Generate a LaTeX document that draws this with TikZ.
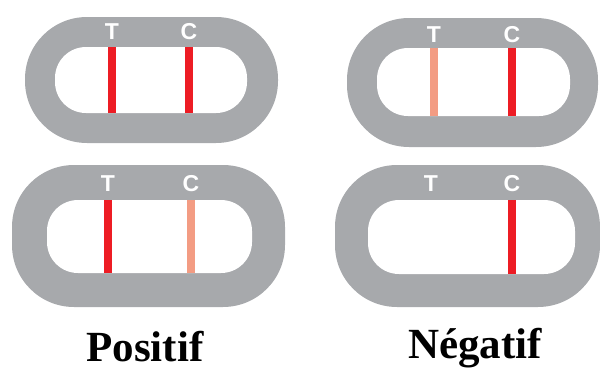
\documentclass[tikz,border=0pt]{standalone}
\usepackage{fontspec}
\setmainfont{Liberation Serif}
\setsansfont{Liberation Sans}
\definecolor{cassette}{HTML}{A7A9AC}
\definecolor{strong}{HTML}{ED1C24}
\definecolor{faint}{HTML}{F39C83}
\begin{document}
\begin{tikzpicture}[x=1pt,y=-1pt,
        case/.style={fill=cassette,rounded corners=62pt},
        window/.style={fill=white,rounded corners=31pt},
        band/.style={line width=8pt},
        letter/.style={text=white,inner sep=0pt,font=\sffamily\bfseries\fontsize{23}{23}\selectfont},
        result/.style={anchor=base,inner sep=0pt,font=\bfseries\fontsize{43}{43}\selectfont}]
        \useasboundingbox (0,0) rectangle (600,370);
        % top left
        \fill[case] (25,17) rectangle (278,143);
        \fill[window] (55,47) rectangle (247,113);
        \draw[band,strong] (112,47) -- (112,113);
        \draw[band,strong] (189,47) -- (189,113);
        \node[letter] (tlT) at (112,32) {T};
        \node[letter] (tlC) at (189,32) {C};
        % top right
        \fill[case] (347,18) rectangle (598,147);
        \fill[window] (377,48) rectangle (570,116);
        \draw[band,faint] (434,48) -- (434,116);
        \draw[band,strong] (512,48) -- (512,116);
        \node[letter] (trT) at (434,35) {T};
        \node[letter] (trC) at (512,35) {C};
        % bottom left
        \fill[case] (12,165) rectangle (285,307);
        \fill[window] (47,200) rectangle (252,273);
        \draw[band,strong] (108,200) -- (108,273);
        \draw[band,faint] (191,200) -- (191,273);
        \node[letter] (blT) at (108,184) {T};
        \node[letter] (blC) at (191,184) {C};
        % bottom right
        \fill[case] (335,165) rectangle (600,307);
        \fill[window] (368,200) rectangle (575,274);
        \draw[band,strong] (512,200) -- (512,274);
        \node[letter] (brT) at (431,184) {T};
        \node[letter] (brC) at (512,184) {C};
        % captions
        \node[result] (pos) at (145,361) {Positif};
        \node[result] (neg) at (475,358) {Négatif};
    \end{tikzpicture}
\end{document}
